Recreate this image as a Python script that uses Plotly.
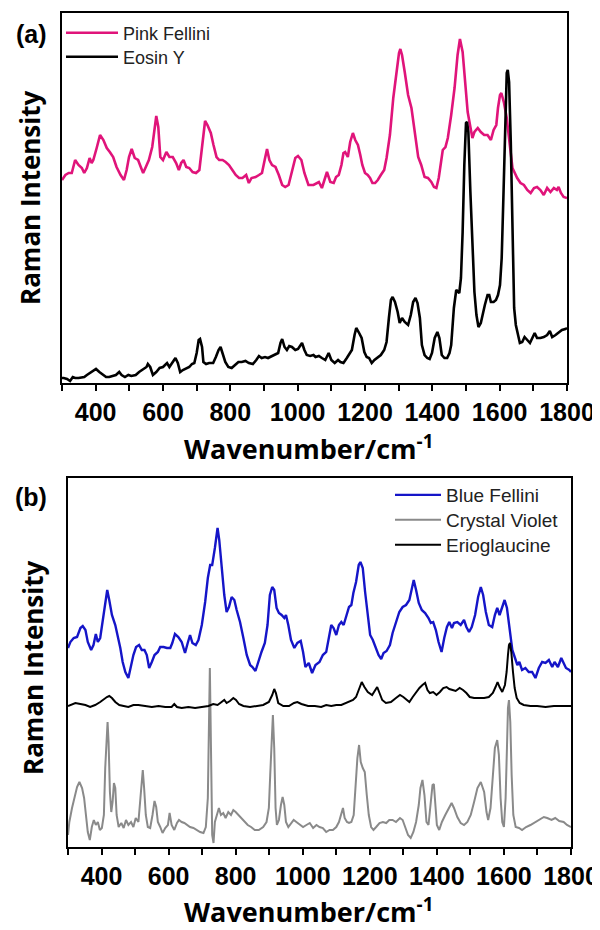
import plotly.graph_objects as go

# ---------------- Panel (a) data: (wavenumber cm-1, Raman intensity a.u.) ----------------
pink_fellini = [(300,203),(310,208),(320,210),(329,210),(339,223),(349,218),(359,215),(366,210),(374,215),(382,225),(388,220),(393,223),(403,235),(413,248),(423,243),(433,235),(442,231),(452,226),(462,216),(474,208),(484,203),(492,213),(499,226),(507,234),(516,225),(526,223),(534,216),(541,210),(549,216),(558,223),(568,236),(575,256),(580,267),(586,256),(592,226),(600,223),(610,231),(619,226),(629,226),(639,220),(647,213),(654,220),(661,223),(669,216),(678,215),(688,211),(698,210),(708,213),(716,236),(725,262),(732,258),(742,250),(750,238),(759,226),(767,223),(777,223),(786,221),(796,218),(806,213),(816,208),(826,205),(836,205),(847,208),(855,200),(863,205),(875,206),(885,208),(894,210),(902,223),(909,234),(916,223),(924,218),(934,216),(944,208),(954,198),(963,196),(973,198),(983,213),(993,225),(1001,227),(1011,223),(1020,210),(1032,198),(1047,198),(1053,199),(1063,201),(1072,195),(1080,203),(1087,211),(1097,201),(1107,200),(1114,206),(1122,208),(1130,218),(1136,230),(1141,231),(1149,226),(1156,241),(1164,250),(1171,243),(1179,238),(1186,228),(1192,218),(1200,210),(1208,208),(1215,205),(1222,200),(1230,200),(1238,203),(1247,208),(1257,213),(1264,225),(1274,248),(1284,285),(1294,315),(1301,330),(1305,334),(1310,328),(1318,311),(1328,288),(1338,275),(1348,251),(1358,226),(1367,218),(1377,206),(1387,205),(1397,201),(1405,196),(1412,195),(1419,205),(1426,221),(1431,233),(1439,236),(1446,245),(1456,268),(1466,295),(1475,328),(1482,344),(1490,331),(1497,301),(1505,271),(1513,256),(1519,245),(1525,251),(1535,255),(1544,251),(1554,248),(1564,248),(1574,243),(1582,253),(1590,258),(1595,275),(1601,288),(1605,290),(1613,280),(1621,265),(1628,245),(1633,228),(1638,215),(1645,210),(1652,205),(1662,200),(1672,198),(1682,193),(1692,190),(1702,195),(1711,196),(1721,193),(1731,188),(1741,195),(1751,191),(1761,195),(1770,193),(1775,196),(1782,190),(1790,186),(1800,185)]

eosin_y = [(300,5),(305,5),(315,4),(324,2),(332,6),(339,5),(349,5),(359,6),(366,6),(374,8),(383,10),(393,13),(401,14),(411,11),(421,8),(431,6),(440,6),(450,7),(460,8),(470,11),(477,8),(487,6),(497,8),(506,7),(519,8),(529,11),(541,14),(551,16),(555,19),(562,16),(570,8),(580,11),(590,15),(600,16),(612,20),(619,16),(629,21),(637,25),(644,20),(651,11),(659,13),(669,15),(678,16),(686,19),(693,20),(700,30),(706,43),(710,44),(716,36),(720,21),(728,19),(737,20),(749,20),(757,26),(765,33),(771,36),(777,30),(785,21),(794,16),(804,15),(814,18),(824,21),(834,21),(845,22),(855,20),(867,19),(877,23),(885,27),(893,25),(903,26),(912,25),(924,27),(934,28),(942,30),(949,40),(954,44),(961,36),(968,33),(975,37),(983,36),(993,33),(1001,34),(1005,36),(1013,40),(1020,33),(1027,28),(1037,27),(1047,28),(1053,26),(1063,27),(1072,25),(1082,23),(1092,30),(1100,23),(1110,20),(1120,23),(1127,21),(1136,20),(1146,25),(1154,30),(1161,33),(1169,48),(1174,55),(1181,51),(1190,45),(1198,31),(1205,26),(1212,25),(1220,20),(1228,23),(1238,26),(1247,28),(1257,33),(1264,41),(1271,65),(1277,83),(1282,86),(1289,81),(1297,71),(1303,60),(1310,65),(1318,61),(1328,58),(1336,68),(1343,81),(1350,85),(1356,80),(1363,65),(1369,38),(1377,28),(1385,25),(1392,24),(1399,30),(1407,45),(1415,51),(1421,45),(1428,28),(1436,25),(1444,25),(1451,30),(1456,38),(1464,75),(1471,93),(1476,91),(1480,90),(1485,105),(1490,151),(1495,218),(1500,260),(1503,261),(1507,251),(1513,191),(1520,125),(1525,91),(1531,68),(1537,56),(1544,60),(1550,71),(1556,78),(1564,88),(1569,88),(1574,81),(1582,81),(1589,83),(1595,88),(1601,98),(1606,125),(1611,185),(1616,258),(1621,310),(1624,313),(1628,301),(1633,241),(1638,141),(1643,75),(1648,58),(1654,48),(1660,40),(1667,41),(1674,46),(1682,43),(1690,40),(1697,45),(1704,50),(1711,45),(1721,45),(1731,46),(1741,48),(1749,52),(1756,46),(1766,48),(1775,50),(1785,53),(1795,54),(1800,55)]

# ---------------- Panel (b) data ----------------
blue_fellini = [(300,199),(307,205),(317,209),(327,210),(337,219),(344,221),(352,217),(359,205),(369,197),(376,202),(383,213),(389,205),(396,209),(403,225),(411,242),(417,257),(423,247),(431,232),(441,222),(449,210),(456,199),(463,185),(471,175),(480,169),(488,182),(495,192),(503,200),(512,202),(520,197),(528,197),(535,192),(542,179),(550,185),(558,192),(568,195),(575,200),(585,200),(595,199),(605,199),(611,204),(619,213),(629,210),(639,205),(649,194),(657,204),(664,212),(671,204),(681,202),(689,207),(699,222),(709,245),(717,269),(724,282),(730,282),(738,299),(743,315),(746,319),(751,307),(758,279),(766,252),(773,235),(780,240),(788,250),(796,247),(803,237),(813,225),(823,209),(833,192),(843,182),(850,180),(859,176),(867,185),(877,195),(887,204),(895,222),(902,252),(909,260),(915,257),(922,239),(929,234),(937,232),(945,229),(950,232),(957,222),(965,207),(975,199),(984,204),(994,206),(1001,195),(1008,180),(1018,184),(1028,174),(1038,182),(1050,185),(1060,192),(1070,195),(1078,210),(1085,222),(1092,219),(1100,212),(1108,222),(1115,225),(1122,222),(1130,232),(1138,240),(1145,242),(1151,254),(1159,265),(1167,282),(1172,285),(1179,279),(1186,255),(1194,232),(1201,212),(1209,207),(1217,199),(1226,192),(1234,188),(1241,194),(1250,196),(1260,202),(1268,214),(1278,225),(1288,235),(1298,240),(1308,242),(1318,247),(1326,259),(1331,267),(1338,257),(1346,244),(1355,237),(1365,234),(1375,229),(1382,224),(1389,225),(1397,217),(1405,205),(1414,195),(1422,209),(1430,220),(1437,225),(1445,219),(1451,224),(1461,225),(1471,222),(1481,227),(1488,220),(1496,215),(1504,220),(1514,232),(1523,250),(1531,260),(1538,252),(1546,235),(1555,222),(1565,220),(1573,232),(1580,239),(1587,232),(1595,240),(1602,247),(1609,239),(1615,222),(1620,205),(1625,197),(1633,189),(1640,182),(1646,185),(1654,177),(1664,179),(1674,175),(1684,175),(1694,169),(1704,179),(1714,185),(1724,184),(1734,187),(1744,180),(1751,185),(1761,180),(1771,189),(1778,184),(1785,179),(1795,177),(1800,175)]

crystal_violet = [(300,12),(304,25),(312,39),(320,52),(327,60),(334,65),(342,59),(348,49),(354,32),(359,15),(365,7),(371,20),(377,27),(383,22),(389,25),(395,17),(401,19),(407,32),(411,79),(415,112),(418,125),(421,105),(425,55),(429,35),(433,45),(437,64),(441,59),(445,32),(451,20),(459,24),(466,19),(473,27),(480,22),(488,25),(495,20),(502,29),(510,25),(516,49),(520,69),(523,77),(527,59),(532,32),(538,20),(545,19),(552,32),(558,46),(563,40),(568,25),(575,20),(582,14),(590,19),(598,22),(603,34),(609,22),(617,17),(625,24),(631,27),(639,25),(647,24),(655,22),(664,20),(674,19),(684,17),(694,15),(704,14),(711,20),(717,49),(721,132),(723,179),(725,132),(727,49),(730,12),(734,4),(738,25),(744,32),(750,39),(756,32),(763,34),(770,29),(778,35),(786,32),(793,37),(800,35),(808,32),(816,29),(826,25),(836,22),(846,20),(857,17),(869,17),(882,20),(892,25),(899,39),(903,72),(907,112),(911,132),(915,99),(919,39),(923,22),(929,27),(935,42),(940,50),(945,42),(950,25),(957,20),(965,24),(973,27),(981,25),(991,22),(1001,20),(1011,22),(1021,24),(1031,19),(1041,22),(1050,20),(1060,19),(1070,15),(1080,17),(1090,17),(1100,20),(1108,25),(1115,32),(1120,39),(1125,29),(1132,25),(1138,24),(1145,25),(1152,32),(1157,59),(1163,89),(1168,102),(1173,85),(1179,79),(1185,75),(1191,52),(1197,32),(1204,20),(1211,17),(1219,20),(1229,24),(1239,25),(1249,24),(1258,27),(1268,27),(1278,25),(1290,29),(1298,27),(1306,19),(1314,12),(1322,9),(1330,15),(1338,25),(1346,42),(1351,59),(1357,67),(1363,52),(1369,25),(1375,22),(1382,42),(1387,62),(1391,63),(1395,45),(1400,22),(1407,17),(1415,25),(1425,32),(1437,39),(1444,44),(1451,39),(1461,30),(1471,24),(1481,22),(1491,25),(1501,32),(1511,45),(1521,59),(1531,65),(1541,55),(1548,35),(1553,27),(1560,39),(1567,72),(1573,99),(1580,107),(1585,92),(1590,49),(1595,25),(1600,20),(1605,49),(1609,99),(1612,139),(1615,147),(1619,125),(1623,72),(1628,32),(1635,20),(1645,19),(1654,17),(1666,20),(1679,22),(1694,25),(1706,27),(1719,30),(1729,29),(1742,27),(1753,29),(1765,26),(1778,25),(1788,22),(1800,20)]

erioglaucine = [(300,141),(307,142),(322,144),(337,143),(352,142),(366,140),(381,142),(396,145),(406,148),(416,150),(423,151),(431,149),(441,145),(453,142),(466,141),(480,140),(495,142),(510,142),(530,141),(550,140),(570,141),(590,140),(609,140),(617,143),(625,140),(639,139),(659,140),(679,139),(699,140),(719,141),(733,143),(746,142),(758,145),(766,147),(773,144),(783,146),(793,149),(801,147),(810,143),(823,141),(843,140),(862,141),(882,142),(899,145),(909,152),(915,158),(920,154),(927,144),(942,141),(959,141),(974,144),(984,145),(996,143),(1016,141),(1036,141),(1055,140),(1070,142),(1085,141),(1100,142),(1115,142),(1130,144),(1140,145),(1150,147),(1159,150),(1169,159),(1176,165),(1184,160),(1194,155),(1207,152),(1215,157),(1222,160),(1229,154),(1237,147),(1248,144),(1263,145),(1278,149),(1290,152),(1300,150),(1310,147),(1318,145),(1328,150),(1338,155),(1348,159),(1357,162),(1365,164),(1372,157),(1379,154),(1389,155),(1399,152),(1409,155),(1419,159),(1429,160),(1437,158),(1447,157),(1456,156),(1468,159),(1478,157),(1488,154),(1498,150),(1511,149),(1526,149),(1541,149),(1555,150),(1567,154),(1575,160),(1581,165),(1587,160),(1595,155),(1603,162),(1608,175),(1612,192),(1615,202),(1618,204),(1622,195),(1627,175),(1632,159),(1638,149),(1647,144),(1659,142),(1679,141),(1699,141),(1724,140),(1749,141),(1773,141),(1800,141)]

x_range = [300, 1800]
x_tick_step = 200
x_minor_step = 100
y_range_a = [0, 370]
y_range_b = [0, 369]

PINK = "#E0147A"
BLUE = "#1515C8"
GRAY = "#8A8A8A"
BLACK = "#000000"

# The page places the figure 8 px in from the window corner (browser body margin);
# positions below are given in window pixels and converted to paper fractions.
W, H, OFF = 600.0, 930.0, 8.0


def fx(p):
    return (p - OFF) / W


def fy(p):
    return 1 - (p - OFF) / H


def xs(pairs):
    return [p[0] for p in pairs]


def ys(pairs):
    return [p[1] for p in pairs]


fig = go.Figure()
series = [
    (pink_fellini, "Pink Fellini", PINK, 2.6, "x", "y", "legend"),
    (eosin_y, "Eosin Y", BLACK, 2.6, "x", "y", "legend2"),
    (blue_fellini, "Blue Fellini", BLUE, 2.4, "x2", "y2", "legend3"),
    (crystal_violet, "Crystal Violet", GRAY, 2.0, "x2", "y2", "legend4"),
    (erioglaucine, "Erioglaucine", BLACK, 2.0, "x2", "y2", "legend5"),
]
for data, name, color, width, xa, ya, lg in series:
    fig.add_trace(go.Scatter(x=xs(data), y=ys(data), mode="lines", name=name,
                             line=dict(color=color, width=width), xaxis=xa, yaxis=ya, legend=lg))

tick_font = dict(family="Liberation Sans, Arial, sans-serif", size=25, color="black", weight="bold")


def xaxis_style(domain, anchor):
    return dict(domain=domain, anchor=anchor, range=x_range, showline=True, linecolor="black",
                linewidth=2, mirror=True, ticks="outside", ticklen=6, tickwidth=2, tickcolor="black",
                tick0=0, dtick=x_tick_step, automargin=False,
                minor=dict(dtick=x_minor_step, ticks="outside", ticklen=6, tickwidth=2, tickcolor="black",
                           showgrid=False),
                tickfont=tick_font, showgrid=False, zeroline=False)


def yaxis_style(domain, anchor, rng):
    return dict(domain=domain, anchor=anchor, range=rng, showline=True, linecolor="black",
                linewidth=2, mirror=True, ticks="", showticklabels=False, showgrid=False,
                zeroline=False, automargin=False)


def legend_at(x_left, y_mid, size, item_w):
    return dict(x=fx(x_left), y=fy(y_mid), xanchor="left", yanchor="middle",
                bgcolor="rgba(0,0,0,0)", borderwidth=0, itemwidth=item_w,
                font=dict(family="Liberation Sans, Arial, sans-serif", size=size, color="#222"))


title_font = dict(family="Open Sans, sans-serif", size=27, color="black", weight="bold")
ytitle_font = dict(family="Open Sans, sans-serif", size=26, color="black", weight="bold")
label_font = dict(family="Liberation Sans, Arial, sans-serif", size=25, color="black", weight="bold")


def note(text, x, y, font, angle=0):
    return dict(text=text, x=fx(x), y=fy(y), xref="paper", yref="paper", showarrow=False,
                xanchor="center", yanchor="middle", textangle=angle, font=font)


fig.update_layout(
    template="none",
    width=600, height=930,
    margin=dict(l=0, r=0, t=0, b=0, autoexpand=False),
    paper_bgcolor="white", plot_bgcolor="white",
    xaxis=xaxis_style([fx(62), fx(567)], "y"),
    yaxis=yaxis_style([fy(383), fy(13)], "x", y_range_a),
    xaxis2=xaxis_style([fx(68), fx(571)], "y2"),
    yaxis2=yaxis_style([fy(847), fy(478)], "x2", y_range_b),
    showlegend=True,
    legend=legend_at(61, 33, 18, 52),
    legend2=legend_at(61, 57, 18, 52),
    legend3=legend_at(390, 495, 19, 46),
    legend4=legend_at(390, 520, 19, 46),
    legend5=legend_at(390, 545, 19, 46),
    annotations=[
        note("(a)", 31, 34, label_font),
        note("(b)", 31, 497, label_font),
        note("Raman Intensity", 30, 198, ytitle_font, -90),
        note("Raman Intensity", 33, 668, ytitle_font, -90),
        note("Wavenumber/cm<sup>-1</sup>", 308, 447, title_font),
        note("Wavenumber/cm<sup>-1</sup>", 308, 910, title_font),
    ],
)

fig.write_html("out.html")
